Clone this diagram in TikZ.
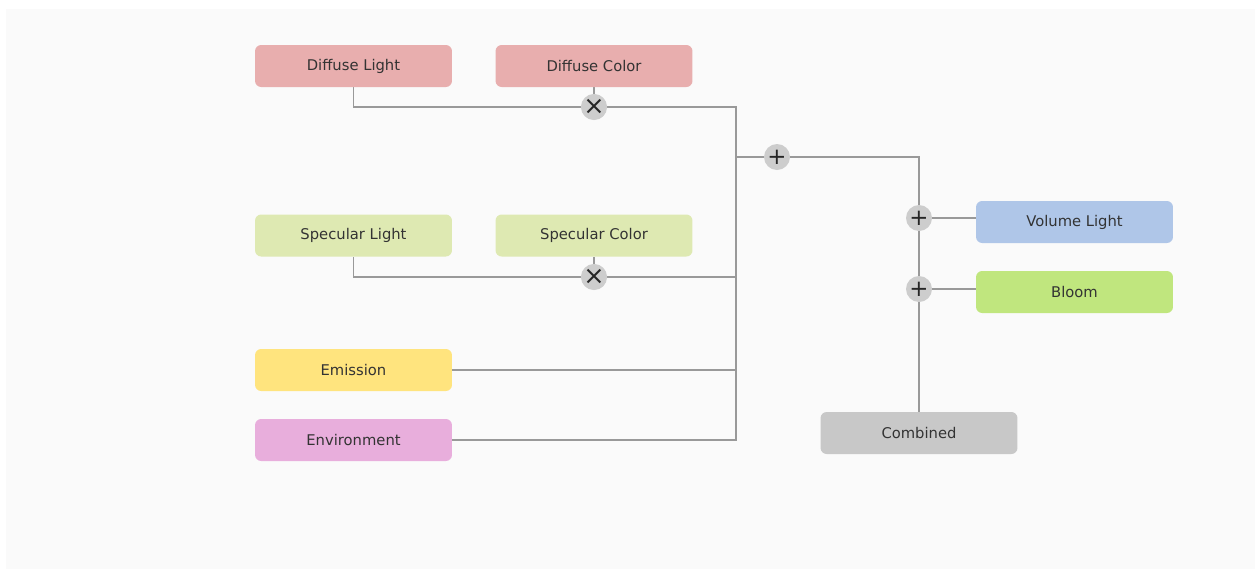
\documentclass[tikz,border=0pt]{standalone}
\usepackage{fontspec}
\setmainfont{DejaVu Sans}
\definecolor{diffuse}{HTML}{E8AEAE}
\definecolor{specular}{HTML}{DEE9B2}
\definecolor{emission}{HTML}{FFE47E}
\definecolor{environ}{HTML}{E8AEDC}
\definecolor{volume}{HTML}{AFC6E8}
\definecolor{bloomc}{HTML}{C0E67E}
\definecolor{combined}{HTML}{C8C8C8}
\definecolor{wiregray}{HTML}{999999}
\definecolor{opgray}{HTML}{CDCDCD}
\definecolor{canvas}{HTML}{FAFAFA}
\usetikzlibrary{calc, arrows.meta, backgrounds}

\begin{document}
\begin{tikzpicture}[x=0.02cm, y=-0.02cm,
  box/.style={draw=none, rounded corners=3.5pt,
              minimum width=3.94cm, minimum height=0.84cm, align=center,
              text=black!80, font=\fontsize{8.4}{10}\selectfont},
  op/.style={circle, fill=opgray, minimum size=0.52cm, inner sep=0pt,
             text=black!85, font=\fontsize{13}{13}\selectfont},
  mulop/.style={op, font=\fontsize{14.5}{14.5}\selectfont},
  wire/.style={draw=wiregray, line width=1.1pt},
]
\useasboundingbox (0,0) rectangle (1255,569);

% inputs
\node[box, fill=diffuse] (dl) at (353.5,66) {Diffuse Light};
\node[box, fill=diffuse] (dc) at (594,66) {Diffuse Color};
\node[box, fill=specular] (sl) at (353.5,235.5) {Specular Light};
\node[box, fill=specular] (sc) at (594,235.5) {Specular Color};
\node[box, fill=emission] (em) at (353.5,370) {Emission};
\node[box, fill=environ] (env) at (353.5,440) {Environment};
\node[box, fill=volume] (vol) at (1074.5,222) {Volume Light};
\node[box, fill=bloomc] (bloom) at (1074.5,292) {Bloom};
\node[box, fill=combined] (comb) at (919,433) {Combined};

% operators
\node[mulop] (md) at (594,107) {×};
\node[mulop] (ms) at (594,277) {×};
\node[op] (add1) at (777,157) {+};
\node[op] (add2) at (919,218) {+};
\node[op] (add3) at (919,289) {+};

\coordinate (jtop) at (736,107);
\coordinate (jbot) at (736,440);

\begin{scope}[on background layer]
\fill[canvas] (6,9) rectangle (1255,569);
\draw[wire] (dl.south) |- (md);
\draw[wire] (dc) -- (md);
\draw[wire] (sl.south) |- (ms);
\draw[wire] (sc) -- (ms);
\draw[wire] (md) -- (jtop) -- (jbot) -- (env);
\draw[wire] (ms) -- (ms -| jtop);
\draw[wire] (em) -- (em -| jtop);
\draw[wire] (add1 -| jtop) -- (add1);
\draw[wire] (add1) -| (add2);
\draw[wire] (add2) -- (add3);
\draw[wire] (add3) -- (comb);
\draw[wire] (add2) -- (add2 -| vol.west);
\draw[wire] (add3) -- (add3 -| bloom.west);
\end{scope}
\end{tikzpicture}
\end{document}
